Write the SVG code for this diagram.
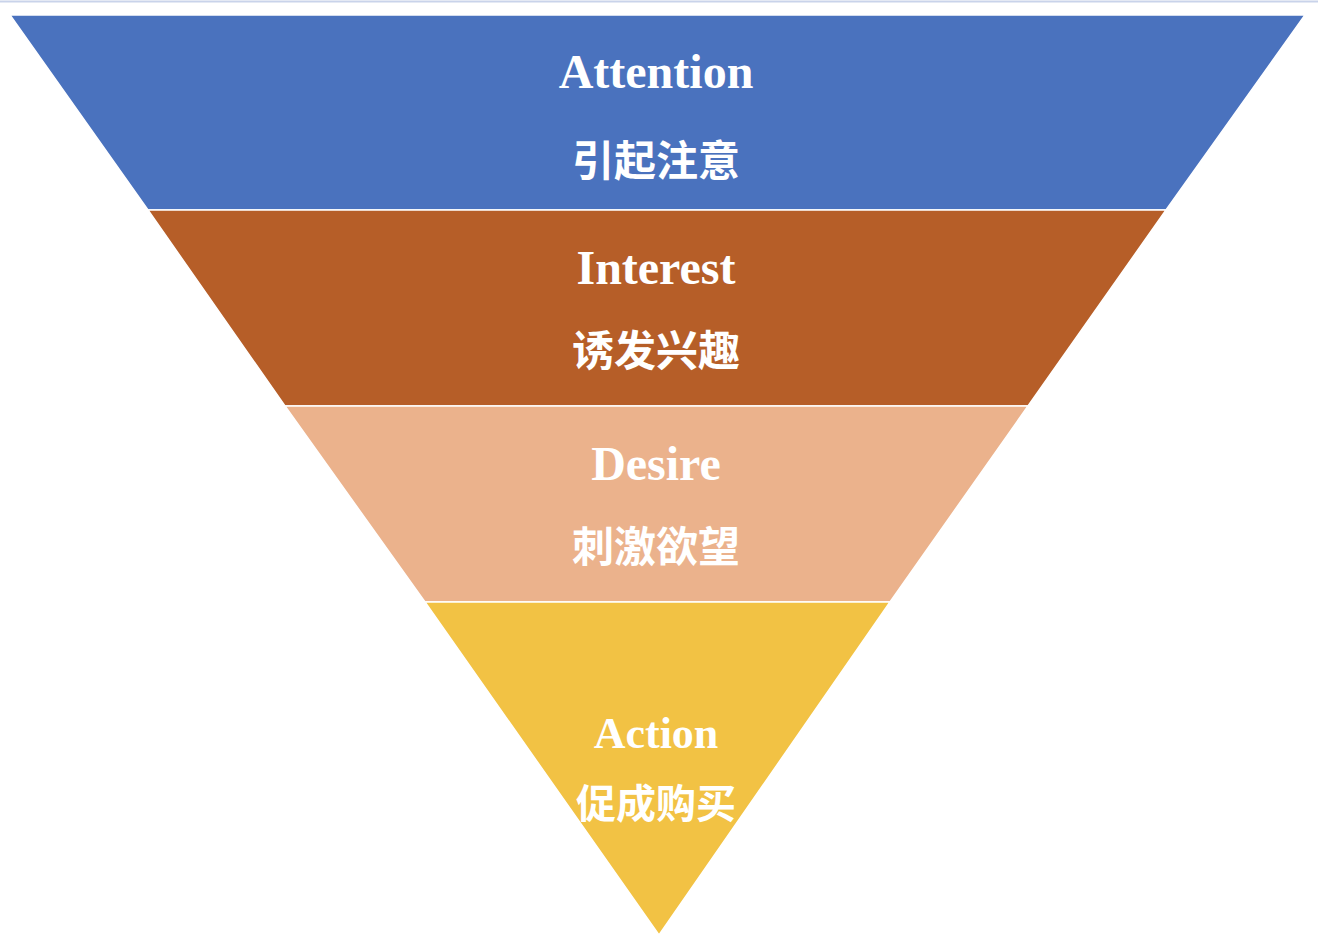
<svg xmlns="http://www.w3.org/2000/svg" width="1318" height="952" viewBox="0 0 1318 952">
<style>
.en{font-family:"Liberation Serif","Noto Serif",serif;font-weight:bold;font-size:48px;fill:#fff;text-anchor:middle}
.zh{font-family:"Noto Sans CJK SC",sans-serif;font-weight:bold;font-size:42px;fill:#fff;text-anchor:middle}
.b{stroke:#fff;stroke-width:1.5}
</style>
<rect width="1318" height="952" fill="#fff"/>
<line x1="0" y1="1.5" x2="1318" y2="1.5" stroke="#c9d3ea" stroke-width="2"/>
<g id="attention"><polygon class="b" points="10,15 1305,15 1166,210 148,210" fill="#4A72BE"/>
<text class="en" x="656" y="88">Attention</text><text class="zh" x="656" y="176">引起注意</text></g>
<g id="interest"><polygon class="b" points="148,210 1166,210 1028,406 285,406" fill="#B65E28"/>
<text class="en" x="656" y="284">Interest</text><text class="zh" x="656" y="366">诱发兴趣</text></g>
<g id="desire"><polygon class="b" points="285,406 1028,406 890,602 425,602" fill="#EBB28C"/>
<text class="en" x="656" y="480">Desire</text><text class="zh" x="656" y="562">刺激欲望</text></g>
<g id="action"><polygon class="b" points="425,602 890,602 659,935" fill="#F2C244"/>
<text class="en" x="656" y="748" style="font-size:44px">Action</text><text class="zh" x="656" y="818" style="font-size:40px">促成购买</text></g>
<g id="connectors"/>
</svg>
